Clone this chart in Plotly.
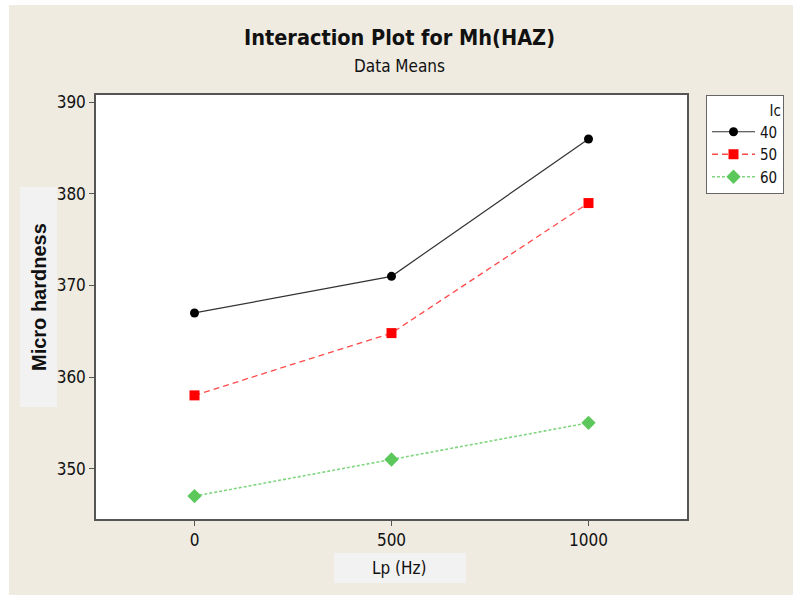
import plotly.graph_objects as go

# ---- data ----
lp_levels = [0, 500, 1000]
ic_levels = ["40", "50", "60"]
mh_ic40 = [367, 371, 386]
mh_ic50 = [358, 364.8, 379]
mh_ic60 = [347, 351, 355]

title_text = "Interaction Plot for Mh(HAZ)"
subtitle_text = "Data Means"
x_title = "Lp (Hz)"
y_title = "Micro hardness"
legend_title = "Ic"
y_ticks = [350, 360, 370, 380, 390]
x_ticks = [0, 500, 1000]

W, H = 793, 595
ML, MR, MT, MB = 96, 106, 95, 76
BG = "#efebe1"
TICKFONT = "Liberation Sans Narrow, DejaVu Sans Condensed, Liberation Sans, sans-serif"

fig = go.Figure()

series = [
    (ic_levels[0], mh_ic40, dict(color="#333333", width=1.2, dash="solid"),
     dict(symbol="circle", size=9, color="black")),
    (ic_levels[1], mh_ic50, dict(color="#ff4a4a", width=1.3, dash="6px,4px"),
     dict(symbol="square", size=10, color="#ff0000")),
    (ic_levels[2], mh_ic60, dict(color="#80d680", width=1.6, dash="3px,2px"),
     dict(symbol="diamond", size=11, color="#5cc85c")),
]
for name, ys, line, marker in series:
    fig.add_trace(go.Scatter(x=lp_levels, y=ys, mode="lines+markers", name=name,
                             line=line, marker=marker))

def px_to_paper_x(px):
    return (px - ML) / (W - ML - MR)

def px_to_paper_y(py):
    return (H - MB - py) / (H - MT - MB)

shapes = [
    dict(type="rect", xref="paper", yref="paper", layer="below",
         x0=px_to_paper_x(20), x1=px_to_paper_x(57),
         y0=px_to_paper_y(407), y1=px_to_paper_y(187),
         fillcolor="#f2f2f2", line=dict(width=0)),
    dict(type="rect", xref="paper", yref="paper", layer="below",
         x0=px_to_paper_x(334), x1=px_to_paper_x(466),
         y0=px_to_paper_y(583), y1=px_to_paper_y(553),
         fillcolor="#f2f2f2", line=dict(width=0)),
    dict(type="rect", xref="paper", yref="paper", layer="above",
         x0=px_to_paper_x(0), x1=px_to_paper_x(W),
         y0=px_to_paper_y(5), y1=px_to_paper_y(0),
         fillcolor="white", line=dict(width=0)),
    dict(type="rect", xref="paper", yref="paper", layer="above",
         x0=px_to_paper_x(0), x1=px_to_paper_x(9),
         y0=px_to_paper_y(H), y1=px_to_paper_y(0),
         fillcolor="white", line=dict(width=0)),
]

annotations = [
    dict(text="<b>" + title_text + "</b>", xref="paper", yref="paper",
         x=px_to_paper_x(400), y=px_to_paper_y(38), xanchor="center", yanchor="middle",
         showarrow=False, font=dict(family=TICKFONT, size=21.5, color="#111111")),
    dict(text=subtitle_text, xref="paper", yref="paper",
         x=px_to_paper_x(400), y=px_to_paper_y(66), xanchor="center", yanchor="middle",
         showarrow=False, font=dict(family=TICKFONT, size=17, color="#111111")),
    dict(text="<b>" + y_title + "</b>", xref="paper", yref="paper", textangle=-90,
         x=px_to_paper_x(39), y=px_to_paper_y(297), xanchor="center", yanchor="middle",
         showarrow=False, font=dict(family="Liberation Sans, Arial, sans-serif", size=20, color="#111111")),
    dict(text=x_title, xref="paper", yref="paper",
         x=px_to_paper_x(400), y=px_to_paper_y(568), xanchor="center", yanchor="middle",
         showarrow=False, font=dict(family=TICKFONT, size=17, color="#111111")),
]

axis_common = dict(showline=True, linecolor="#555555", linewidth=1.5, mirror=True,
                   ticks="outside", ticklen=5, tickcolor="#555555", tickwidth=1,
                   showgrid=False, zeroline=False,
                   tickfont=dict(family=TICKFONT, size=17, color="#111111"))

fig.update_layout(
    width=W, height=H,
    margin=dict(l=ML, r=MR, t=MT, b=MB, pad=0, autoexpand=False),
    paper_bgcolor=BG, plot_bgcolor="white",
    xaxis=dict(range=[-250, 1250], tickvals=x_ticks, **axis_common),
    yaxis=dict(range=[344.5, 390.8], tickvals=y_ticks, **axis_common),
    shapes=shapes, annotations=annotations,
    showlegend=True,
    legend=dict(x=px_to_paper_x(706), y=1, xanchor="left", yanchor="top",
                bgcolor="white", bordercolor="#666666", borderwidth=1,
                font=dict(family=TICKFONT, size=15, color="#111111"),
                title=dict(text=legend_title, side="top right",
                           font=dict(family=TICKFONT, size=15, color="#111111")),
                tracegroupgap=0, itemwidth=43),
)

fig.write_html("out.html")
